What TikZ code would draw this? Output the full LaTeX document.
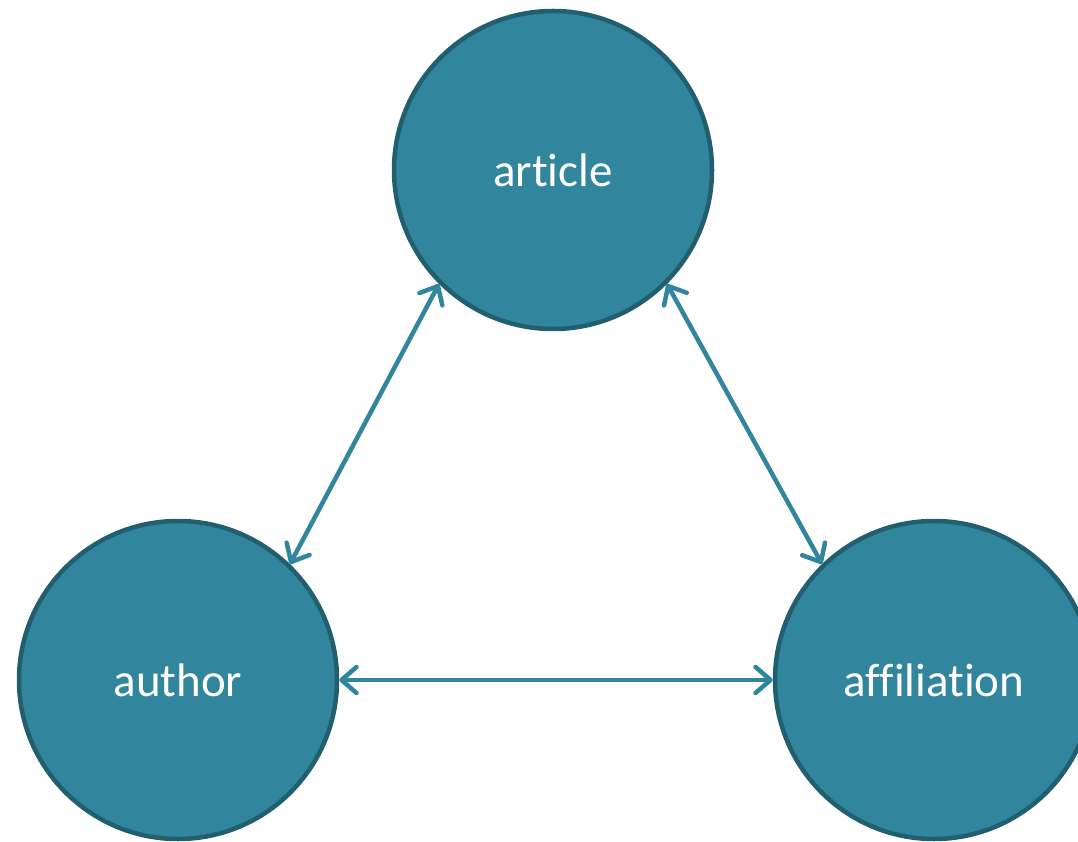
\documentclass[tikz,border=0pt]{standalone}
\usepackage{fontspec}
\setmainfont{Carlito}[Ligatures={NoCommon}]
\usetikzlibrary{arrows.meta}
\definecolor{teal1}{HTML}{31859C}
\definecolor{tealdark}{HTML}{215E6E}
\begin{document}
\begin{tikzpicture}[x=1pt,y=1pt,
  entity/.style={circle, fill=teal1, draw=tealdark, line width=4.5pt, minimum size=318pt, inner sep=0pt, text=white, font=\fontsize{47}{56}\selectfont},
  link/.style={draw=teal1, line width=4.5pt, {Straight Barb[length=15pt,width=26pt,round]}-{Straight Barb[length=15pt,width=26pt,round]}}]
\useasboundingbox (0,0) rectangle (1078,841);
\begin{scope}
\clip (0,0) rectangle (1078,841);
\node[entity] (article) at (553,671) {article};
\node[entity] (author) at (178,161) {author};
\node[entity] (affil) at (934,161) {affiliation};
\draw[link] (article.225) -- (author.46);
\draw[link] (article.-45) -- (affil.134);
\draw[link] (author.0) -- (affil.180);
\end{scope}
\end{tikzpicture}
\end{document}
